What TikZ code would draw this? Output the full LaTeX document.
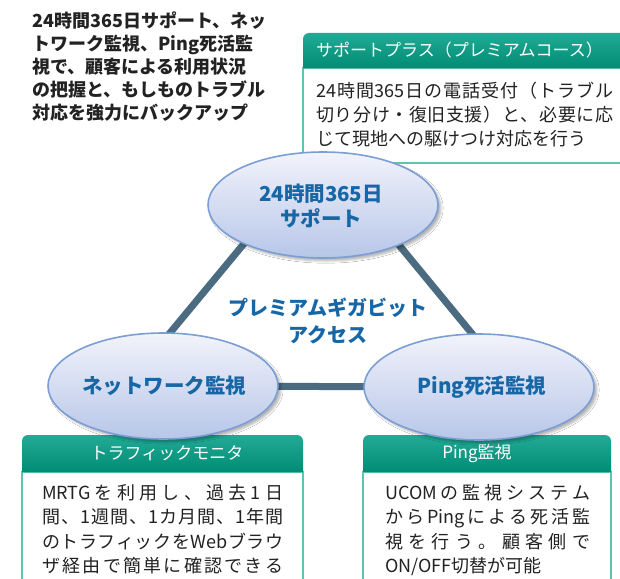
\documentclass[tikz,border=0pt]{standalone}
\usepackage{fontspec}
\setmainfont{Noto Sans CJK JP}
\usetikzlibrary{shapes.geometric,shadows.blur,calc,backgrounds}
\definecolor{ink}{HTML}{222222}
\definecolor{ellblue}{HTML}{7B9FD4}
\definecolor{elltop}{HTML}{F2F3FB}
\definecolor{ellbot}{HTML}{B7C6E8}
\definecolor{titleblue}{HTML}{1766A6}
\definecolor{linkcol}{HTML}{4B6C80}
\definecolor{hdtop}{HTML}{22AA96}
\definecolor{hdbot}{HTML}{008C74}
\definecolor{boxline}{HTML}{62C2B2}
\makeatletter
\def\jsp@endmark{\jsp@end}
\def\jsp#1{\def\jsp@tmp{#1}\ifx\jsp@tmp\jsp@endmark\unskip\else#1\hskip0pt plus1fil\relax\expandafter\jsp\fi}
\newcommand\spreadline[2]{\makebox[#1][s]{\jsp#2\jsp@end}}
\makeatother
\tikzset{
  bubble/.style={ellipse, draw=ellblue, line width=1.6pt, top color=elltop, bottom color=ellbot,
    minimum width=230pt, minimum height=106pt, inner sep=0pt},
  bubbletext/.style={align=center, text=titleblue, inner sep=0pt,
    font=\fontsize{20.5}{25}\selectfont\bfseries},
  bshadow/.style={blur shadow={shadow xshift=3pt, shadow yshift=-3pt, shadow blur steps=6, shadow opacity=30}},
  link/.style={draw=linkcol, line width=7pt},
  hdr/.style={top color=hdtop, bottom color=hdbot},
  boxbody/.style={draw=boxline, line width=1.5pt, fill=white},
  hdtext/.style={text=white, font=\fontsize{17}{20}\selectfont, inner sep=0pt},
  bodytext/.style={text=ink, font=\fontsize{18}{24.5}\selectfont, align=left, inner sep=0pt, anchor=north west},
}
\begin{document}
\begin{tikzpicture}[x=1pt,y=-1pt]
\useasboundingbox (0,0) rectangle (620,578);
\clip (0,0) rectangle (620,578);

% intro text
\node[bodytext, font=\fontsize{18}{23}\selectfont\bfseries, text=ink] (intro) at (32,12)
  {24時間365日サポート、ネッ\\トワーク監視、Ping死活監\\視で、顧客による利用状況\\の把握と、もしものトラブル\\対応を強力にバックアップ};

% top-right box
\draw[boxbody] (303,68) rectangle (650,163);
\path[hdr] (303,68) [rounded corners=6pt] -- (303,33) -- (650,33) [sharp corners] -- (650,68) -- cycle;
\node[hdtext, anchor=west] (h1) at (316,50) {サポートプラス（プレミアムコース）};
\node[bodytext, font=\fontsize{18}{24}\selectfont] (b1) at (316,82)
  {\spreadline{297pt}{{24}時間{365}日の電話受付（トラブル}\\\spreadline{297pt}{切り分け・復旧支援）と、必要に応}\\じて現地への駆けつけ対応を行う};

% bottom-left box
\draw[boxbody] (22,472) rectangle (303,600);
\path[hdr] (22,472) [rounded corners=6pt] -- (22,435) -- (303,435) [sharp corners] -- (303,472) -- cycle;
\node[hdtext] (h2) at (167,453) {トラフィックモニタ};
\node[bodytext] (b2) at (42,484)
  {\spreadline{241pt}{{MRTG}を利用し、過去1日}\\\spreadline{241pt}{間、1週間、1カ月間、1年間}\\\spreadline{241pt}{のトラフィックを{Web}ブラウ}\\\spreadline{241pt}{ザ経由で簡単に確認できる}};

% bottom-right box
\draw[boxbody] (363,472) rectangle (611,600);
\path[hdr] (363,472) [rounded corners=6pt] -- (363,435) -- (611,435) [sharp corners] -- (611,472) -- cycle;
\node[hdtext] (h3) at (477,453) {Ping監視};
\node[bodytext] (b3) at (385,484)
  {\spreadline{205pt}{{UCOM}の監視システム}\\\spreadline{205pt}{から{Ping}による死活監}\\\spreadline{205pt}{視を行う。顧客側で}\\ON/OFF切替が可能};

% bubbles
\node[bubble, bshadow] (sup) at (323,205) {};
\node[bubble, bshadow] (net) at (163,386) {};
\node[bubble, bshadow] (ping) at (479,387) {};
\node[bubbletext] (supt) at (321,205.5) {24時間365日\\サポート};
\node[bubbletext] (nett) at (164,386) {ネットワーク監視};
\node[bubbletext] (pingt) at (482,387) {Ping死活監視};
\node[bubbletext, font=\fontsize{20}{27}\selectfont\bfseries] (core) at (328,321) {プレミアムギガビット\\アクセス};

\begin{scope}[on background layer]
  \fill[white] (0,0) rectangle (620,578);
  \draw[link] ($(sup.center)+(-47,0)$) -- ($(net.center)+(-37,0)$);
  \draw[link] ($(sup.center)+(43,0)$) -- ($(ping.center)+(37,0)$);
  \draw[link] (net.center) -- (ping.center);
\end{scope}
\end{tikzpicture}
\end{document}
